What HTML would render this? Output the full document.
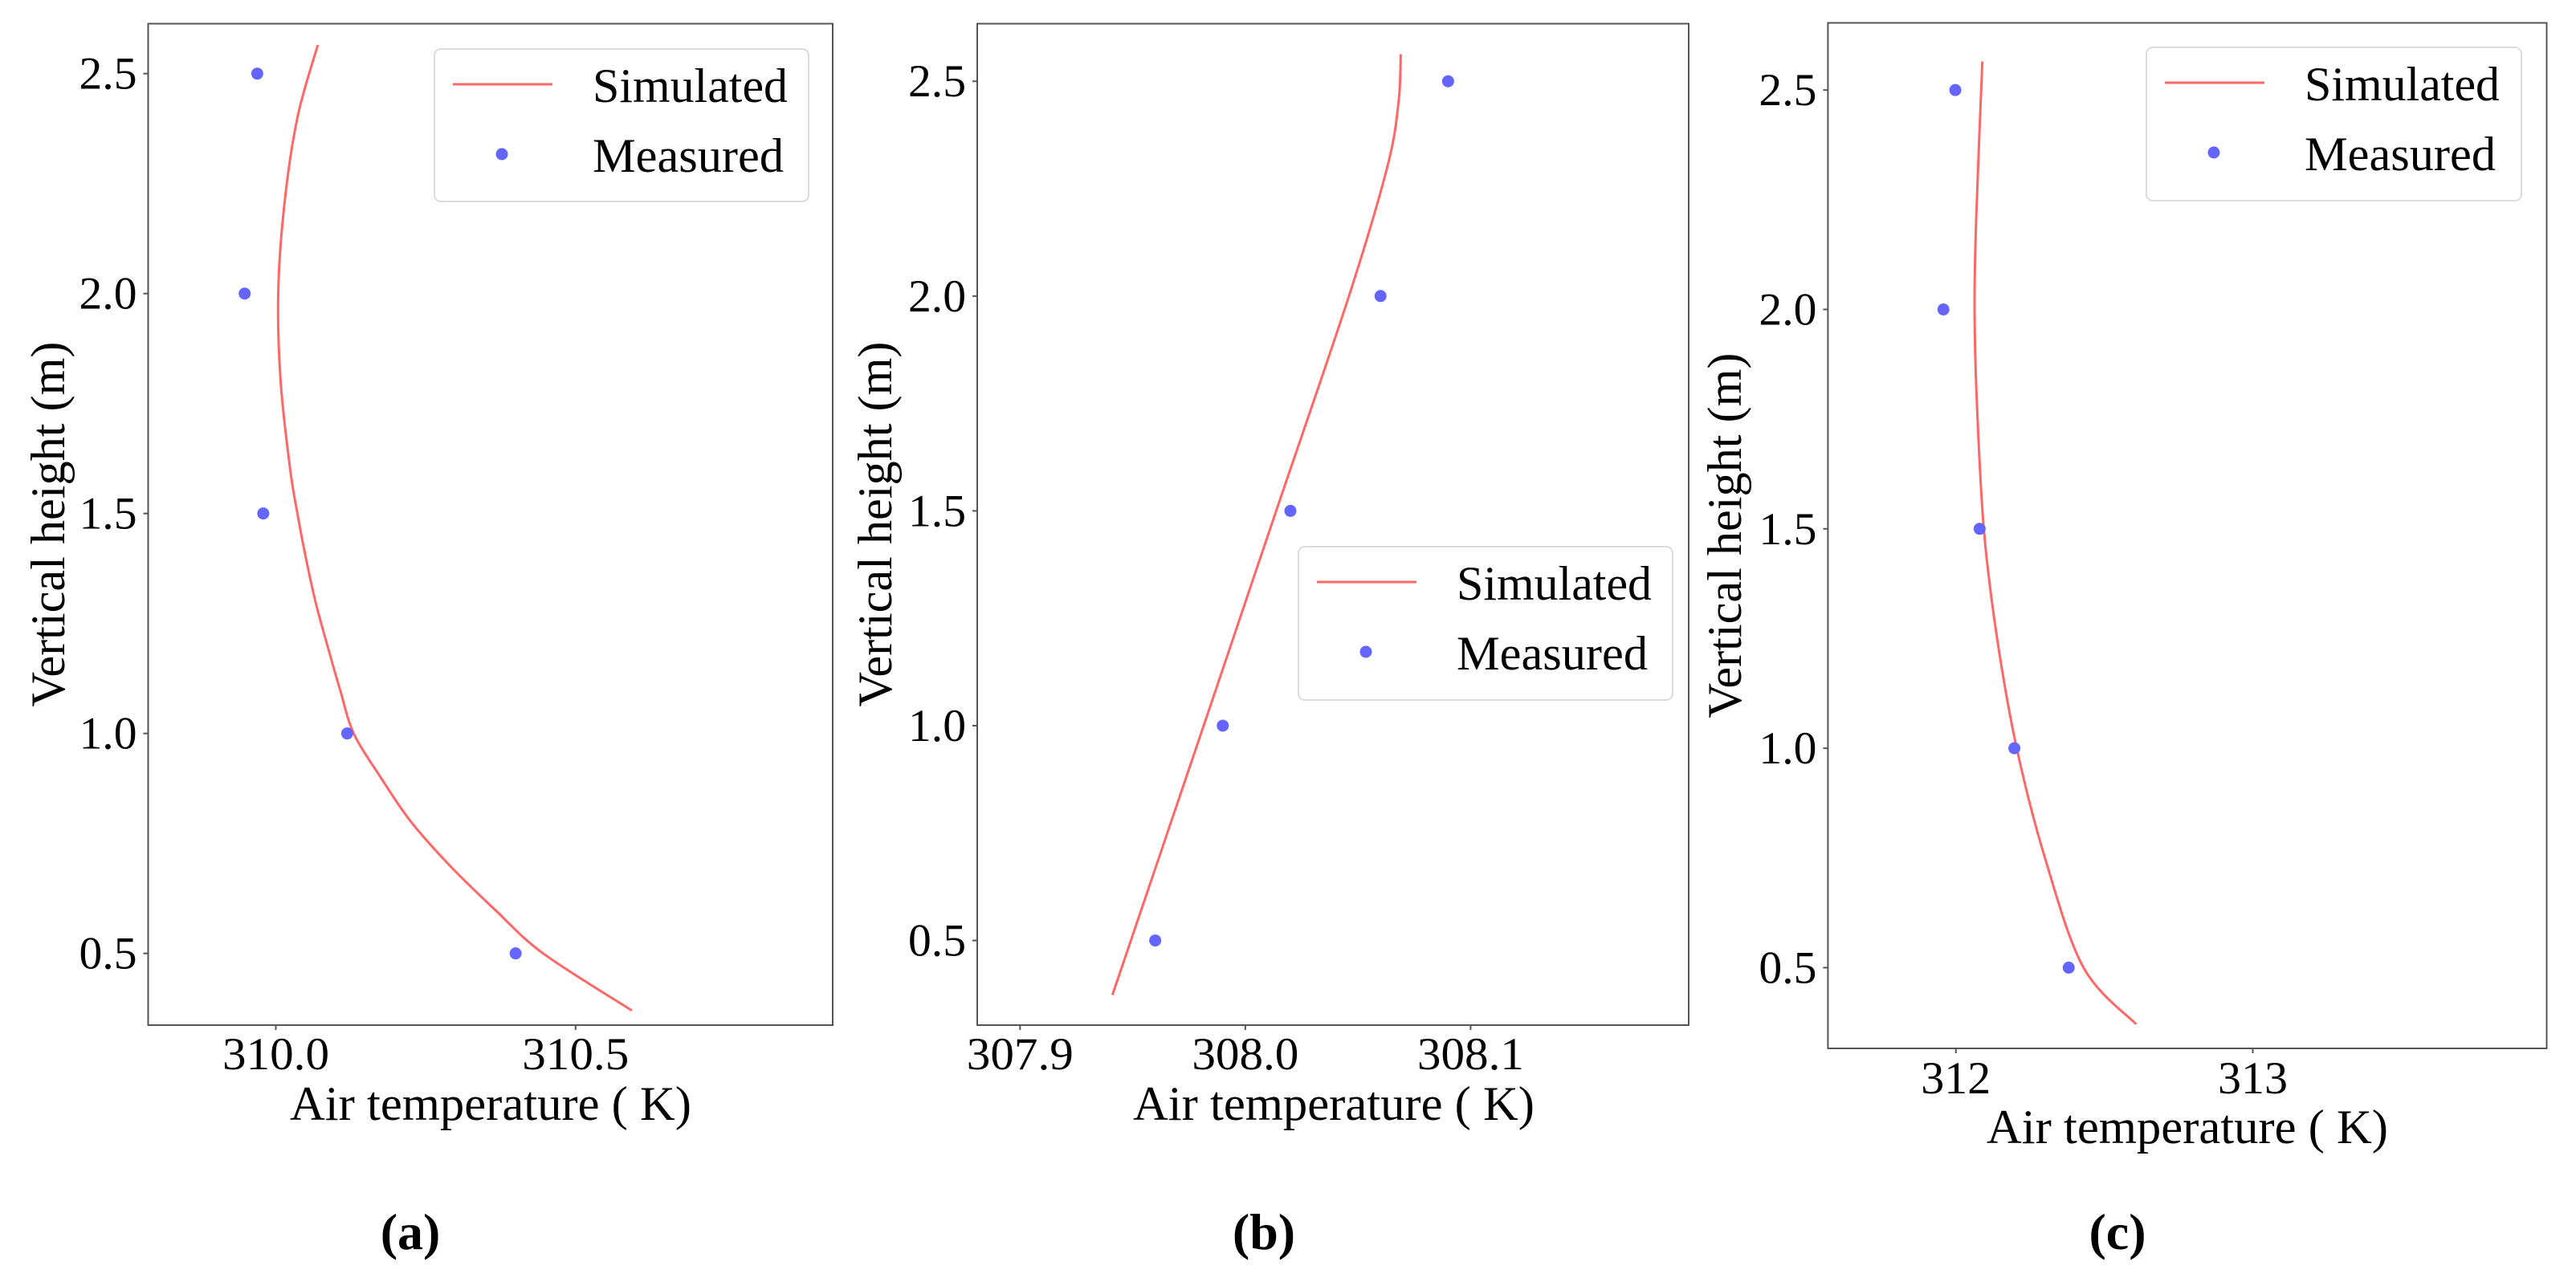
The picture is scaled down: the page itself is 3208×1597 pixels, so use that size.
<!DOCTYPE html>
<html><head><meta charset="utf-8"><style>
html,body{margin:0;padding:0;background:#fff;}
svg{display:block;}
text{font-family:"Liberation Serif","Times New Roman","DejaVu Serif",serif;}
</style></head><body>
<svg id="fig" width="3208" height="1597" viewBox="0 0 3208 1597" xmlns="http://www.w3.org/2000/svg"></svg>
<script>
// Panel (a)
const aSimHeight = [2.565, 2.4, 2.2, 2.0, 1.8, 1.6, 1.5, 1.4, 1.3, 1.2, 1.1, 1.0, 0.9, 0.8, 0.7, 0.6, 0.5, 0.37];
const aSimTemp   = [310.07, 310.036, 310.014, 310.004, 310.008, 310.024, 310.036, 310.05, 310.066, 310.086, 310.107, 310.13, 310.175, 310.225, 310.29, 310.365, 310.446, 310.594];
const aMeasHeight = [2.5, 2.0, 1.5, 1.0, 0.5];
const aMeasTemp   = [309.969, 309.948, 309.979, 310.119, 310.400];
const aXTicks = [310.0, 310.5];
const aXTickLabels = ["310.0", "310.5"];
// Panel (b)
const bSimHeight = [2.563, 2.45, 2.3, 2.0, 1.5, 1.0, 0.373];
const bSimTemp   = [308.069, 308.068, 308.063, 308.046, 308.0137, 307.9815, 307.941];
const bMeasHeight = [2.5, 2.0, 1.5, 1.0, 0.5];
const bMeasTemp   = [308.090, 308.060, 308.020, 307.990, 307.960];
const bXTicks = [307.9, 308.0, 308.1];
const bXTickLabels = ["307.9", "308.0", "308.1"];
// Panel (c)
const cSimHeight = [2.565, 2.2, 2.0, 1.8, 1.5, 1.25, 1.0, 0.75, 0.5, 0.371];
const cSimTemp   = [312.089, 312.068, 312.063, 312.07, 312.094, 312.139, 312.205, 312.30, 312.43, 312.607];
const cMeasHeight = [2.5, 2.0, 1.5, 1.0, 0.5];
const cMeasTemp   = [311.998, 311.958, 312.08, 312.197, 312.38];
const cXTicks = [312, 313];
const cXTickLabels = ["312", "313"];
// shared
const yTicks = [0.5, 1.0, 1.5, 2.0, 2.5];
const yTickLabels = ["0.5", "1.0", "1.5", "2.0", "2.5"];

const NS = "http://www.w3.org/2000/svg";
const svg = document.getElementById('fig');
function mk(tag, attrs, parent, txt){
  const e = document.createElementNS(NS, tag);
  for (const k in attrs) e.setAttribute(k, attrs[k]);
  if (txt !== undefined) e.textContent = txt;
  (parent || svg).appendChild(e);
  return e;
}
function smoothPath(pts){
  let d = 'M' + pts[0][0].toFixed(1) + ' ' + pts[0][1].toFixed(1);
  for (let i = 0; i < pts.length - 1; i++){
    const p0 = pts[Math.max(0, i - 1)], p1 = pts[i], p2 = pts[i + 1], p3 = pts[Math.min(pts.length - 1, i + 2)];
    const c1 = [p1[0] + (p2[0] - p0[0]) / 6, p1[1] + (p2[1] - p0[1]) / 6];
    const c2 = [p2[0] - (p3[0] - p1[0]) / 6, p2[1] - (p3[1] - p1[1]) / 6];
    d += 'C' + c1[0].toFixed(1) + ' ' + c1[1].toFixed(1) + ' ' + c2[0].toFixed(1) + ' ' + c2[1].toFixed(1) + ' ' + p2[0].toFixed(1) + ' ' + p2[1].toFixed(1);
  }
  return d;
}

function panel(cfg){
  const g = mk('g', {});
  
  
  const L = cfg.box[0], T = cfg.box[1], R = cfg.box[2], B = cfg.box[3];
  const sx = v => L + (v - cfg.xr[0]) / (cfg.xr[1] - cfg.xr[0]) * (R - L);
  const sy = v => B - (v - cfg.yr[0]) / (cfg.yr[1] - cfg.yr[0]) * (B - T);
  const pts = cfg.simT.map((t, i) => [sx(t), sy(cfg.simH[i])]);
  const line = mk('path', {d: smoothPath(pts), fill: 'none', stroke: '#ff6666', 'stroke-width': 3}, g);
  
  
  cfg.measT.forEach((t, i) => {
    const c = mk('circle', {cx: sx(t), cy: sy(cfg.measH[i]), r: 7.5, fill: '#6464ff'}, g);
    
    
  });
  const fr = mk('rect', {x: L, y: T, width: R - L, height: B - T, fill: 'none', stroke: '#555', 'stroke-width': 2}, g);
  
  
  cfg.xt.forEach((v, i) => {
    const x = sx(v);
    mk('line', {x1: x, y1: B, x2: x, y2: B + 6, stroke: '#555', 'stroke-width': 2}, g);
    const t = mk('text', {x: x, y: cfg.xtY, 'font-size': 57, 'text-anchor': 'middle', textLength: cfg.xtW * cfg.xl[i].length, lengthAdjust: 'spacingAndGlyphs'}, g, cfg.xl[i]);
    
    
  });
  yTicks.forEach((v, i) => {
    const y = sy(v);
    mk('line', {x1: L - 6, y1: y, x2: L, y2: y, stroke: '#555', 'stroke-width': 2}, g);
    const t = mk('text', {x: L - 14, y: y + 19, 'font-size': 57, 'text-anchor': 'end', textLength: 72, lengthAdjust: 'spacingAndGlyphs'}, g, yTickLabels[i]);
    
    
  });
  const xt = mk('text', {x: cfg.xTitle[0], y: cfg.xTitle[1], 'font-size': 60, textLength: 500, lengthAdjust: 'spacingAndGlyphs'}, g, 'Air temperature ( K)');
  
  
  const yt = mk('text', {x: 0, y: 0, 'font-size': 60, 'text-anchor': 'middle', textLength: 455, lengthAdjust: 'spacingAndGlyphs', transform: 'translate(' + cfg.yTitle[0] + ',' + cfg.yTitle[1] + ') rotate(-90)'}, g, 'Vertical height (m)');
  
  
  const lg = mk('g', {}, g);
  
  
  const lb = cfg.leg;
  mk('rect', {x: lb[0], y: lb[1], width: lb[2] - lb[0], height: lb[3] - lb[1], rx: 8, fill: '#fff', 'fill-opacity': 0.8, stroke: '#dcdcdc', 'stroke-width': 2}, lg);
  mk('line', {x1: lb[0] + 23, y1: lb[1] + 44, x2: lb[0] + 147, y2: lb[1] + 44, stroke: '#ff6666', 'stroke-width': 3}, lg);
  mk('circle', {cx: lb[0] + 84, cy: lb[1] + 131, r: 7.5, fill: '#6464ff'}, lg);
  const s1 = mk('text', {x: lb[0] + 197, y: lb[1] + 66, 'font-size': 60, textLength: 243, lengthAdjust: 'spacingAndGlyphs'}, lg, 'Simulated');
  
  
  const s2 = mk('text', {x: lb[0] + 197, y: lb[1] + 153, 'font-size': 60, textLength: 238, lengthAdjust: 'spacingAndGlyphs'}, lg, 'Measured');
  
  
  const pl = mk('text', {x: cfg.lab[0], y: 1556, 'font-size': 64, 'font-weight': 'bold', 'text-anchor': 'middle'}, g, '(' + cfg.id + ')');
  
  
}

panel({id: 'a', box: [184.5, 29.5, 1037, 1277], xr: [309.787, 310.929], yr: [0.337, 2.6135],
  simH: aSimHeight, simT: aSimTemp, measH: aMeasHeight, measT: aMeasTemp,
  xt: aXTicks, xl: aXTickLabels, xtW: 26.6, xtY: 1332, xTitle: [361, 1395], yTitle: [80, 653],
  leg: [541, 61, 1007, 251], lab: [511]});
panel({id: 'b', box: [1217, 29.5, 2103, 1277], xr: [307.881, 308.1968], yr: [0.303, 2.634],
  simH: bSimHeight, simT: bSimTemp, measH: bMeasHeight, measT: bMeasTemp,
  xt: bXTicks, xl: bXTickLabels, xtW: 26.6, xtY: 1332, xTitle: [1411, 1395], yTitle: [1110, 653],
  leg: [1617, 681, 2083, 872], lab: [1574]});
panel({id: 'c', box: [2276.4, 28.5, 3171.5, 1306], xr: [311.569, 313.99], yr: [0.316, 2.653],
  simH: cSimHeight, simT: cSimTemp, measH: cMeasHeight, measT: cMeasTemp,
  xt: cXTicks, xl: cXTickLabels, xtW: 29, xtY: 1362, xTitle: [2474, 1424], yTitle: [2168, 667],
  leg: [2673, 59, 3140, 250], lab: [2637]});
</script>
</body></html>
